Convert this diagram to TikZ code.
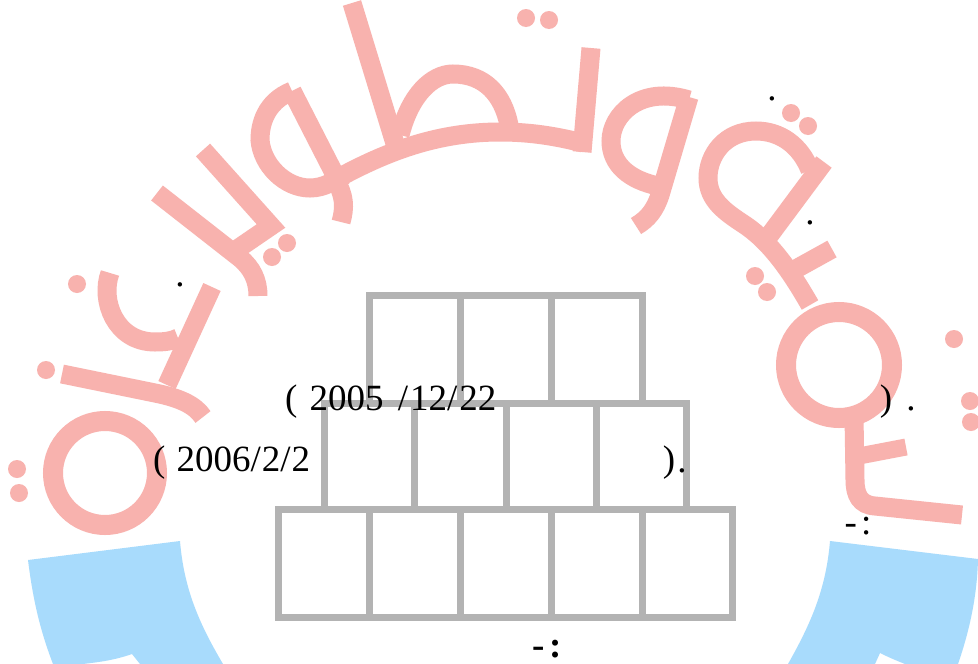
\documentclass[tikz,border=0pt]{standalone}
\usepackage{fontspec}
\setmainfont{Liberation Serif}
\definecolor{wmpink}{HTML}{F8B2AE}
\definecolor{wmblue}{HTML}{A8DBFC}
\definecolor{brick}{HTML}{B3B3B3}
\tikzset{
  pinkstroke/.style={draw=wmpink,line width=19pt,line cap=butt,line join=miter},
  pinkdot/.style={fill=wmpink,draw=none},
  blueshape/.style={fill=wmblue,draw=none},
  brickline/.style={draw=brick,line width=7pt,line cap=square,line join=miter},
  label/.style={inner sep=0pt,outer sep=0pt,anchor=base west,text=black,font=\fontsize{37}{40}\selectfont},
  mark dot/.style={inner sep=0pt,outer sep=0pt,anchor=base,text=black,font=\fontsize{37}{40}\selectfont},
}
\begin{document}
\begin{tikzpicture}[x=1pt,y=-1pt]
\useasboundingbox (0,0) rectangle (978,664);
\fill[white] (0,0) rectangle (978,664);
% blue shapes
\path[blueshape] (28,560) -- (180,541) .. controls (184,590) and (200,625) .. (223,664) -- (140,664) -- (132,654) .. controls (115,660) and (100,662) .. (83,664) -- (53,664) .. controls (40,630) and (33,600) .. (28,560) -- cycle;
\path[blueshape] (830,541) -- (978,559) .. controls (977,600) and (968,635) .. (958,664) -- (905,664) .. controls (895,660) and (888,657) .. (880,653) -- (875,664) -- (788,664) .. controls (810,625) and (826,590) .. (830,541) -- cycle;
% pink strokes, right circle group
\draw[pinkstroke,line width=20pt] (839,365) circle[radius=53];
\draw[pinkstroke] (854,415) -- (855,480) .. controls (855,495) and (860,505) .. (875,506) -- (962,515);
\draw[pinkstroke,line width=17pt] (906,447) -- (859,456);
% qaf group
\draw[pinkstroke] (824,162) -- (766,240);
\draw[pinkstroke] (810,170) .. controls (800,145) and (780,131) .. (756,131) .. controls (725,131) and (708,155) .. (708,178) .. controls (708,200) and (725,212) .. (745,225) .. controls (770,242) and (790,270) .. (810,305);
\draw[pinkstroke] (832,249) -- (785,275);
% waw-like group
\draw[pinkstroke] (689,97) -- (660,195) .. controls (655,210) and (648,219) .. (636,226);
\draw[pinkstroke] (689,100) .. controls (640,85) and (611,115) .. (611,141) .. controls (611,165) and (630,180) .. (658,186);
% long baseline with taa
\draw[pinkstroke] (340,177) .. controls (390,150) and (440,132) .. (500,132) .. controls (530,132) and (555,136) .. (583,143);
\draw[pinkstroke] (591,48) -- (582,152);
\draw[pinkstroke] (352,3) -- (397,150);
\draw[pinkstroke] (400,135) .. controls (410,95) and (432,74) .. (453,74) .. controls (485,74) and (503,95) .. (509,125);
% loop + tail
\draw[pinkstroke] (292,91) -- (335,175);
\draw[pinkstroke] (292,91) .. controls (265,102) and (260,125) .. (260,140) .. controls (262,165) and (285,188) .. (310,188) .. controls (325,188) and (335,180) .. (345,175);
\draw[pinkstroke] (335,180) .. controls (345,195) and (345,208) .. (341,222);
% ya group
\draw[pinkstroke] (157,193) -- (240,258) .. controls (252,268) and (258,280) .. (258,296);
\draw[pinkstroke] (203,150) -- (271,226) -- (233,252);
% lower-left nun group
\draw[pinkstroke] (212,287) -- (167,385);
\draw[pinkstroke] (110,273) .. controls (100,300) and (115,342) .. (155,342) .. controls (165,342) and (172,341) .. (178,338);
\draw[pinkstroke] (62,374) -- (155,393) .. controls (180,398) and (195,405) .. (203,417);
\draw[pinkstroke,line width=20pt] (105,473) circle[radius=52];
% pink dots
\foreach \px/\py in {526/18,549/20,791/113,808/126,755/276,767/292,954/339,970/401,971/422,287/243,272/257,77/284,46/370,17/469,19/493}
  \path[pinkdot] (\px,\py) circle[radius=9];
% brick pyramid
\draw[brickline] (369,403) -- (369,295) -- (642,295) -- (642,403);
\draw[brickline] (460,295) -- (460,403);
\draw[brickline] (551,295) -- (551,403);
\draw[brickline] (324,509) -- (324,403) -- (686,403) -- (686,509);
\draw[brickline] (414,403) -- (414,509);
\draw[brickline] (506,403) -- (506,509);
\draw[brickline] (596,403) -- (596,509);
\draw[brickline] (278,509) rectangle (732,617);
\draw[brickline] (369,509) -- (369,617);
\draw[brickline] (460,509) -- (460,617);
\draw[brickline] (551,509) -- (551,617);
\draw[brickline] (642,509) -- (642,617);
% texts
\node[label] (t1) at (285,410) {( \kern3pt2005 \kern5pt/\kern2pt12/\kern2pt22};
\node[label] (t2) at (153,471) {( \kern2pt2006/\kern1pt2/\kern1pt2};
\node[mark dot] (p1) at (669,471) {)};
\node[mark dot] (d1) at (682,472) {.};
\node[mark dot] (p2) at (886,410) {)};
\node[mark dot] (d2) at (911,410) {.};
\node[mark dot] (d3) at (772,100) {.};
\node[mark dot] (d4) at (810,224) {.};
\node[mark dot] (d5) at (180,286) {.};
\node[mark dot] (m1) at (858,534) {-\kern4pt:};
\node[mark dot,font=\fontsize{37}{40}\selectfont\bfseries] (m2) at (547,657) {-\kern5pt:};
\end{tikzpicture}
\end{document}
